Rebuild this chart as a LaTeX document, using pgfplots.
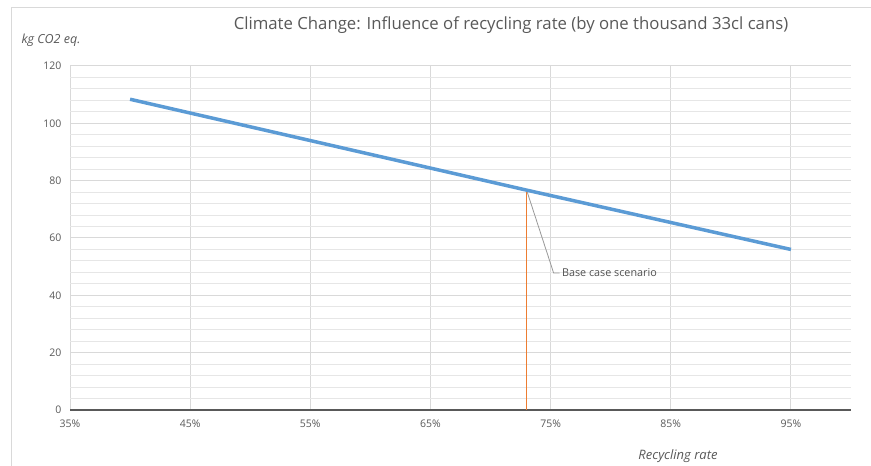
\documentclass[border=0pt]{standalone}
\usepackage{pgfplots}
\pgfplotsset{compat=1.18}
\usepackage{fontspec}
\setmainfont{Open Sans}
\definecolor{cblue}{HTML}{5B9BD5}
\definecolor{corange}{HTML}{ED7D31}
\definecolor{ctext}{HTML}{595959}
\definecolor{cgrid}{HTML}{D9D9D9}
\definecolor{cminor}{HTML}{E6E6E6}
\begin{document}
\begin{tikzpicture}
\useasboundingbox (0,0) rectangle (871pt,466pt);
\fill[white] (0,0) rectangle (871pt,466pt);
\draw[cgrid, line width=1pt] (11pt,0pt) -- (11pt,458pt) -- (871pt,458pt);
\begin{axis}[
  at={(70pt,56pt)}, anchor=south west,
  scale only axis, width=781pt, height=344pt,
  xmin=35, xmax=100, ymin=0, ymax=120,
  xtick={35,45,55,65,75,85,95},
  xticklabel={\pgfmathprintnumber{\tick}\%},
  ytick={0,20,40,60,80,100,120},
  minor y tick num=4,
  grid=both,
  major grid style={cgrid, line width=1pt},
  minor grid style={cminor, line width=1pt},
  axis x line=bottom, axis y line=left,
  axis line style={-},
  x axis line style={ctext, line width=2pt},
  y axis line style={draw=none},
  tick style={draw=none},
  ticklabel style={font=\fontsize{10.5}{12}\selectfont, text=ctext},
  xticklabel style={yshift=-4pt},
  yticklabel style={xshift=-3pt},
  /pgf/number format/assume math mode=true,
  clip=false,
]
\addplot[corange, line width=1.6pt] coordinates {(73,0) (73,76.7)};
\addplot[gray!80, line width=0.8pt] coordinates {(73,76.7) (75.25,47.8) (75.75,47.8)};
\addplot[cblue, line width=3.5pt] coordinates {(40,108.4) (73,76.7) (95,56.0)};
\node[anchor=west, font=\fontsize{10.8}{12}\selectfont, text=ctext!90!black, inner sep=1pt] at (axis cs:75.85,47.8) {Base case scenario};
\end{axis}
\node[font=\fontsize{16.75}{20}\selectfont, text=ctext] at (511pt,441pt) {Climate Change: Influence of recycling rate (by one thousand 33cl cans)};
\node[font=\fontsize{12.5}{14}\selectfont\itshape, text=ctext] at (51pt,426pt) {kg CO2 eq.};
\node[font=\fontsize{13}{15}\selectfont\itshape, text=ctext] at (678pt,10pt) {Recycling rate};
\end{tikzpicture}
\end{document}
